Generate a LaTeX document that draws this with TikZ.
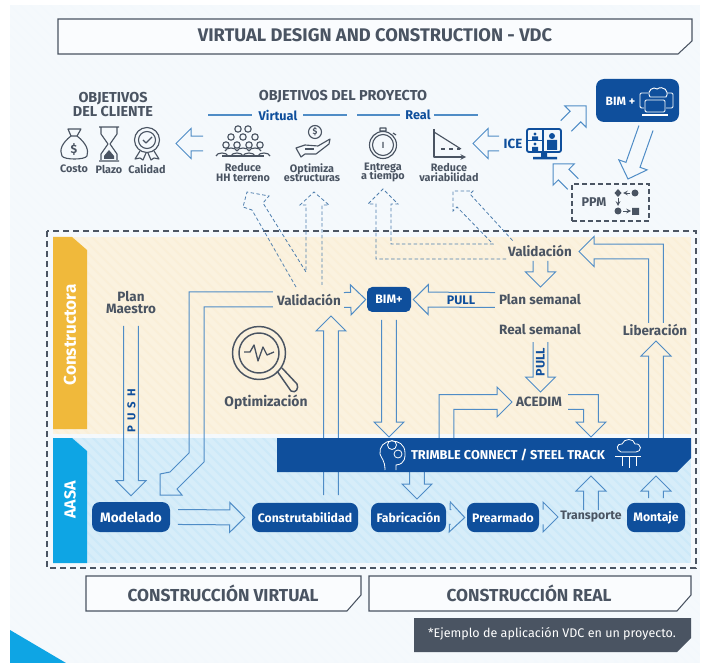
\documentclass[tikz,border=0pt]{standalone}
\usepackage{fontspec}
\setmainfont{Fira Sans}
\usetikzlibrary{calc}
\definecolor{pagebg}{HTML}{F3F8FC}
\definecolor{tanbg}{HTML}{FAEFD8}
\definecolor{bluebg}{HTML}{CDE9F8}
\definecolor{barY}{HTML}{F0B93B}
\definecolor{barC}{HTML}{0EA5E4}
\definecolor{dk}{HTML}{0F4F9C}
\definecolor{ln}{HTML}{4F8CC6}
\definecolor{gr}{HTML}{4A5462}
\definecolor{dsh}{HTML}{4B5563}
\newcommand\bw{5.6pt}
\newcommand\bW{11.25pt}
\newcommand\hl{11.25pt}
\newcommand\tightlines{\lineskiplimit -10pt\relax}
% straight block arrow, open tail
\newcommand\BA[3][]{%
  \coordinate (tH) at ($(#3)!\hl!(#2)$);
  \draw[blockline,#1] ($(#2)!\bw!90:(#3)$) -- ($(tH)!\bw!90:(#3)$) -- ($(tH)!\bW!90:(#3)$) -- (#3)
    -- ($(tH)!\bW!-90:(#3)$) -- ($(tH)!\bw!-90:(#3)$) -- ($(#2)!\bw!-90:(#3)$);}
% right-angled block arrow
\newcommand\BE[4][]{%
  \coordinate (tH) at ($(#4)!\hl!(#3)$);
  \coordinate (tU) at ($(#2)!\bw!90:(#3)$);
  \coordinate (tV) at ($(tH)!\bw!90:(#4)$);
  \draw[blockline,#1] (tU) -- ($(#3)+(tU)-(#2)+(tV)-(tH)$) -- (tV) -- ($(tH)!\bW!90:(#4)$) -- (#4)
    -- ($(tH)!\bW!-90:(#4)$) -- ($(tH)!\bw!-90:(#4)$) -- ($(#3)-(tU)+(#2)-(tV)+(tH)$) -- ($(#2)!\bw!-90:(#3)$);}
\tikzset{
  blockline/.style={draw=ln,line width=0.75pt,line join=miter},
  dashline/.style={draw=ln!75!gr,line width=0.6pt,dash pattern=on 2.6pt off 1.8pt},
  tx/.style={text=gr,font=\bfseries\fontsize{10.1}{9}\selectfont\tightlines,align=center,inner sep=0pt},
  sm/.style={text=gr,font=\bfseries\fontsize{8.1}{6.9}\selectfont\tightlines,align=center,inner sep=0pt},
  head/.style={text=gr,font=\bfseries\fontsize{10.8}{11.2}\selectfont,align=center,inner sep=0pt},
  big/.style={text=gr,font=\bfseries\fontsize{13}{14}\selectfont,inner sep=0pt},
  pull/.style={text=dk,font=\bfseries\fontsize{9.3}{9}\selectfont,inner sep=0pt},
  stage/.style={fill=dk,text=white,rounded corners=6pt,font=\bfseries\fontsize{9.2}{10}\selectfont,inner sep=0pt,anchor=center},
  ico/.style={draw=gr,line width=0.85pt,fill=none,line join=round},
  framebox/.style={draw=gr,line width=0.8pt,fill=white!60!pagebg},
}
\begin{document}
\begin{tikzpicture}[x=0.75pt,y=-0.75pt]
\useasboundingbox (0,0) rectangle (704,663);
\fill[white] (0,0) rectangle (704,663);
\fill[pagebg] (10,5) rectangle (700,663);
% bands
\fill[tanbg] (53,237) rectangle (691,434);
\fill[bluebg] (53,438) rectangle (691,563);
% faint diagonal stripes
\begin{scope}
\clip (10,5) rectangle (700,663);
\foreach \i in {-660,-650,...,700}{
  \draw[white,opacity=0.2,line width=3.5pt] (\i,0) -- (\i+663,663);}
\end{scope}
\fill[barC] (10,630) -- (66,663) -- (10,663) -- cycle;
\draw[dsh,line width=0.9pt,dash pattern=on 4.5pt off 3pt] (47,231) rectangle (696,568);
\fill[barY] (53,237) -- (72,237) -- (87,250) -- (87,429) -- (53,429) -- cycle;
\fill[barC] (53,438) -- (72,438) -- (87,451) -- (87,563) -- (53,563) -- cycle;
\node[rotate=90,text=white,font=\bfseries\fontsize{12.8}{13}\selectfont,inner sep=0pt] (lc) at (70,335) {Constructora};
\node[rotate=90,text=white,font=\bfseries\fontsize{12}{13}\selectfont,inner sep=0pt] (la) at (70,500) {AASA};
% title frames
\draw[framebox] (58,19) -- (692,19) -- (692,41) -- (678,54) -- (58,54) -- cycle;
\node[big,font=\bfseries\fontsize{13.7}{14}\selectfont] (title) at (375,35) {VIRTUAL DESIGN AND CONSTRUCTION - VDC};
\draw[framebox] (86,576) -- (361,576) -- (361,595) -- (347,611) -- (86,611) -- cycle;
\node[big] (cv) at (223,593) {CONSTRUCCIÓN VIRTUAL};
\draw[framebox] (369,576) -- (691,576) -- (691,595) -- (677,611) -- (369,611) -- cycle;
\node[big] (cr) at (529,593) {CONSTRUCCIÓN REAL};
\fill[gr] (414,618) -- (691,618) -- (691,638) -- (677,652) -- (414,652) -- cycle;
\node[text=white,font=\fontsize{9.4}{10}\selectfont,inner sep=0pt] (note) at (552,634) {*Ejemplo de aplicación VDC en un proyecto.};
% top text
\node[head] (oc) at (113,104.5) {OBJETIVOS\\DEL CLIENTE};
\node[head] (op) at (343,97) {OBJETIVOS DEL PROYECTO};
\node[pull,font=\bfseries\fontsize{9.5}{10}\selectfont] (virt) at (278,115) {Virtual};
\node[pull,font=\bfseries\fontsize{9.5}{10}\selectfont] (real) at (418,115) {Real};
\draw[ln,line width=0.8pt] (208,115) -- (252,115) (303,115) -- (347,115) (357,115) -- (400,115) (434,115) -- (478,115);
\node[sm] (costo) at (74,169) {Costo};
\node[sm] (plazo) at (109,169) {Plazo};
\node[sm] (calidad) at (147,169) {Calidad};
\node[sm] (t1) at (243,172.5) {Reduce\\HH terreno};
\node[sm] (t2) at (312,172.5) {Optimiza\\estructuras};
\node[sm] (t3) at (383,172.5) {Entrega\\a tiempo};
\node[sm] (t4) at (449,172.5) {Reduce\\variabilidad};
% icons: bag
\draw[ico] (68,129) -- (81,129) -- (77,136) -- (71,136) -- cycle;
\draw[ico] (71,136) .. controls (62,143) and (59,150) .. (62,156) .. controls (64,160) and (85,160) .. (87,156) .. controls (89,150) and (86,143) .. (77,136);
\node[text=gr,font=\bfseries\fontsize{9}{9}\selectfont,inner sep=0] (ibag) at (74,149) {\$};
% hourglass
\draw[ico] (99,127) -- (119,127) (99,161) -- (119,161) (101,128) -- (101,134) -- (108,144) -- (101,154) -- (101,160) (117,128) -- (117,134) -- (110,144) -- (117,154) -- (117,160);
\fill[gr] (104,156) -- (109,150) -- (114,156) -- (114,159) -- (104,159) -- cycle;
% medal
\draw[ico] (147,140) circle (12.5) (147,140) circle (8.5);
\draw[ico] (143,140) -- (146,143) -- (152,137);
\draw[ico] (140,151) -- (135,159) -- (140,158) -- (143,160) -- (146,153) (154,151) -- (159,159) -- (154,158) -- (151,160) -- (148,153);
% crowd
\foreach \px/\py in {238/129,248/129,231/137,243/137,255/137,226/145,237/145,249/145,260/145}{
  \draw[ico] (\px,\py) circle (3.2);}
\foreach \px/\py in {231/150,243/150,255/150,222/155,237/155,249/155,264/155}{
  \draw[ico] (\px-6,\py+1) .. controls (\px-5,\py-3) and (\px+5,\py-3) .. (\px+6,\py+1);}
\draw[ico] (222,156) -- (264,156);
% hand coin
\draw[ico] (315,132) circle (6.5);
\node[text=gr,font=\bfseries\fontsize{6.5}{7}\selectfont,inner sep=0] (icoin) at (315,132) {\$};
\draw[ico] (296,148) -- (305,145) -- (318,146) -- (330,139) -- (329,144) -- (316,154) -- (305,154) -- (301,157) -- cycle;
\draw[ico] (305,149) -- (314,149);
% stopwatch
\draw[ico] (383,145) circle (13.5) (383,145) circle (10.5);
\draw[ico] (380,128) -- (386,128) -- (386,131) -- (380,131) -- cycle (383,142) -- (383,148) (393,133) -- (396,135);
% chart
\draw[ico,->,>=stealth] (434,129) -- (434,157) -- (466,157);
\draw[ico] (434,132) -- (461,149);
\draw[ico,dashed] (441,149) -- (460,149);
% ICE
\node[text=dk,font=\bfseries\fontsize{10}{10}\selectfont,inner sep=0pt] (ice) at (513,144) {ICE};
\draw[dk,line width=1.4pt,rounded corners=1.5pt] (527,129) rectangle (561,152);
\draw[dk,line width=1.1pt] (543,129) -- (543,152) (527,140.5) -- (543,140.5);
\fill[dk] (535,134) circle (1.6) (532,140) rectangle (538,136.5) (535,144) circle (1.6) (532,151) rectangle (538,147) (552,136) circle (3) (547,150) rectangle (557,140);
\fill[dk] (541,152) rectangle (547,157) (533,157) rectangle (557,159.5);
% BIM+ box
\node[stage,minimum width=62.25pt,minimum height=32.25pt] (bimtop) at (637.5,100.5) {};
\node[text=white,font=\bfseries\fontsize{9}{10}\selectfont,inner sep=0pt] (bimtxt) at (620.5,101) {BIM +};
\draw[white,line width=0.7pt,rounded corners=1pt] (645,100) rectangle (665,112);
\draw[white,line width=0.8pt] (642,115) -- (668,115);
\draw[white,line width=0.7pt,rounded corners=1pt] (644,108) -- (640,108) -- (640,93) -- (648,93) (666,108) -- (673,108) -- (673,93) -- (668,93);
\draw[white,line width=0.7pt] (650,97) .. controls (646,90) and (654,86) .. (657,89) .. controls (663,85) and (670,91) .. (666,97) -- (650,97);
% PPM
\node[draw=dsh,line width=0.9pt,dash pattern=on 3.5pt off 2.5pt,minimum width=57.75pt,minimum height=27.75pt,inner sep=0pt] (ppmbox) at (610.5,202.5) {};
\node[tx,font=\bfseries\fontsize{9.5}{10}\selectfont] (ppm) at (594,202) {PPM};
\fill[gr] (618,189) -- (621.5,193) -- (618,197) -- (614.5,193) -- cycle (635,193) circle (3.5) (618,211) circle (3.5) (632,208) rectangle (639,215);
\draw[gr,line width=0.6pt,->,>=stealth] (630,193) -- (623,193);
\draw[gr,line width=0.6pt,->,>=stealth] (618,198) -- (618,206);
\draw[gr,line width=0.6pt,->,>=stealth] (623,211) -- (631,211);
% body text
\node[tx] (pm) at (131,303) {Plan\\Maestro};
\node[tx] (val) at (309,300) {Validación};
\node[tx] (valr) at (540,251) {Validación};
\node[tx] (ps) at (540,300) {Plan semanal};
\node[tx] (rs) at (540,330) {Real semanal};
\node[tx] (acedim) at (539,402) {ACEDIM};
\node[tx] (lib) at (655,330) {Liberación};
\node[tx,font=\bfseries\fontsize{10.4}{10}\selectfont] (optim) at (266,402) {Optimización};
\node[tx,font=\bfseries\fontsize{9.2}{10}\selectfont] (trans) at (591,517) {Transporte};
\node[stage,minimum width=58.5pt,minimum height=22.5pt,font=\bfseries\fontsize{10.2}{10}\selectfont] (mod) at (131,517) {Modelado};
\node[stage,minimum width=79.5pt,minimum height=22pt] (con) at (305,517.5) {Construtabilidad};
\node[stage,minimum width=56.25pt,minimum height=22pt] (fab) at (408.5,517.5) {Fabricación};
\node[stage,minimum width=54pt,minimum height=22pt] (pre) at (503,517.5) {Prearmado};
\node[stage,minimum width=43.5pt,minimum height=22pt] (mon) at (656,517.5) {Montaje};
\node[stage,minimum width=33pt,minimum height=18.75pt,rounded corners=4pt] (bim) at (389,299.5) {BIM+};
% magnifier
\draw[ico,line width=1.1pt] (259,353) circle (26.5) (259,353) circle (20);
\draw[ico,line width=1pt] (244,352) -- (250,352) -- (254,345) -- (258,361) -- (263,347) -- (267,355) -- (274,352);
\draw[ico,line width=1.1pt] (277,371) -- (291,391) .. controls (296,394) and (299,388) .. (297,384) -- (282,368);
% coordinates for block arrows
\coordinate (a1s) at (131,326); \coordinate (a1e) at ([yshift=4.5pt]mod.north);
\coordinate (a2s) at (178,517); \coordinate (a2e) at ([xshift=-5.25pt]con.west);
\coordinate (a3s) at (331,495); \coordinate (a3e) at (331,316);
\coordinate (a4s) at (344,300); \coordinate (a4e) at ([xshift=-0.75pt]bim.west);
\coordinate (a5s) at (495,300); \coordinate (a5e) at ([xshift=1.5pt]bim.east);
\coordinate (a6s) at (389,320); \coordinate (a6e) at (389,437);
\coordinate (a7s) at (540.5,261); \coordinate (a7e) at (540.5,287);
\coordinate (a8s) at (540.5,342); \coordinate (a8e) at (540.5,392);
\coordinate (a9s) at (446.5,438); \coordinate (a9c) at (446.5,402); \coordinate (a9e) at (512,402);
\coordinate (a10s) at (568,402); \coordinate (a10c) at (591,402); \coordinate (a10e) at (591,437);
\coordinate (a11s) at (656,438); \coordinate (a11e) at (656,341);
\coordinate (a12s) at (656,323); \coordinate (a12c) at (656,251.5); \coordinate (a12e) at (579,251.5);
\coordinate (a13s) at (451,517); \coordinate (a13e) at ([xshift=-1.5pt]pre.west);
\coordinate (a14s) at (543,517); \coordinate (a14e) at (558,517);
\coordinate (a15s) at (591,510); \coordinate (a15e) at (591,476);
\coordinate (a16s) at (656,498); \coordinate (a16e) at (656,476);
\coordinate (a17s) at (417,472); \coordinate (a17e) at (417,499);
\coordinate (a18s) at (203,143.5); \coordinate (a18e) at (176,143.5);
\coordinate (a19s) at (499,143.5); \coordinate (a19e) at (473,143.5);
\coordinate (a20s) at (566,126); \coordinate (a20e) at (586,106);
\coordinate (a21s) at (646,128); \coordinate (a21e) at (628,179);
\coordinate (a22s) at (573,184); \coordinate (a22e) at (553,164);
\BA{a1s}{a1e}
\BA{a2s}{a2e}
\BA{a3s}{a3e}
\BA{a4s}{a4e}
\BA{a5s}{a5e}
\BA{a6s}{a6e}
\BA{a7s}{a7e}
\BA{a8s}{a8e}
\BE{a9s}{a9c}{a9e}
\BE{a10s}{a10c}{a10e}
\BA{a11s}{a11e}
\BE{a12s}{a12c}{a12e}
\BA{a13s}{a13e}
\BA{a14s}{a14e}
\BA{a15s}{a15e}
\BA{a16s}{a16e}
\BA{a17s}{a17e}
\BA{a18s}{a18e}
\BA{a19s}{a19e}
\BA{a20s}{a20e}
\BA{a21s}{a21e}
\BA{a22s}{a22e}
% elbow Validacion -> Modelado
\draw[blockline] ([xshift=-3pt,yshift=6pt]val.west) -- (189,292) -- (189,453) -- (170,472) -- (160,474) -- (160,495) -- (182,495) -- (177,489) -- (204,462) -- (204,307) -- ([xshift=-3pt,yshift=-5.25pt]val.west);
% dashed arrows
\draw[dashline] (296,287) -- (252,210) -- (243,207) -- (247,192) -- (269,196) -- (263,203) -- (306,272) -- (306,205) -- (300,205) -- (314,192) -- (329,205) -- (322,205) -- (322,285);
\draw[dashline] (506,259) -- (376,259) -- (376,204) -- (368,204) -- (383,189) -- (398,204) -- (391,204) -- (391,244) -- (493,244) -- (457,207) -- (453,211) -- (453,191) -- (473,191) -- (470,194) -- (513,241);
% trimble bar (over the arrows that run under it)
\fill[dk] (277,438) -- (691,438) -- (691,458) -- (677,472) -- (277,472) -- cycle;
\node[text=white,font=\bfseries\fontsize{9.6}{9}\selectfont,inner sep=0pt] (trim) at (508,455) {TRIMBLE CONNECT / STEEL TRACK};
\draw[white,line width=0.6pt] (392,445) circle (4.5) (398,454) circle (4) (396,470) -- (396,465) .. controls (406,464) and (405,456) .. (405,453) .. controls (405,444) and (398,441) .. (392,441) .. controls (384,441) and (379,447) .. (380,454) .. controls (381,458) and (385,460) .. (385,470);
\draw[white,line width=0.6pt] (621,452) .. controls (615,450) and (617,443) .. (622,444) .. controls (624,438) and (634,438) .. (635,444) .. controls (642,443) and (642,452) .. (636,452) -- cycle;
\draw[white,line width=0.6pt] (615,456) -- (641,456) (622,456) -- (622,466) (629,456) -- (629,468) (636,456) -- (636,466);
% labels over arrows
\node[pull] (pullh) at (461,300) {PULL};
\node[pull,rotate=90] (pullv) at (540.5,362) {PULL};
\node[pull,rotate=90,font=\bfseries\fontsize{8.5}{8}\selectfont\addfontfeature{LetterSpace=45}] (push) at (131.5,411) {PUSH};
\end{tikzpicture}
\end{document}
